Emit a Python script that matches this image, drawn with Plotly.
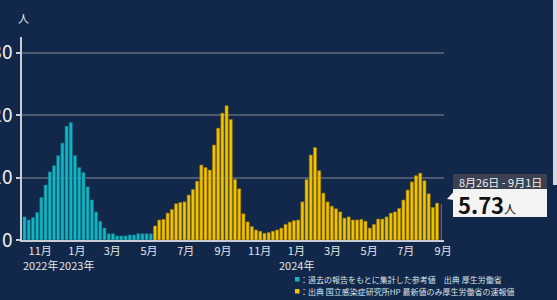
import plotly.graph_objects as go
import pandas as pd

# ---- data ----
week_start = pd.date_range("2022-10-03", periods=100, freq="7D")
week_center = week_start + pd.Timedelta(days=3)

past_vals = [3.7, 3.2, 3.6, 4.4, 6.8, 8.8, 10.9, 11.9, 13.5, 15.5, 18.2, 18.8,
             13.5, 11.6, 10.8, 8.5, 6.4, 4.5, 3.0, 1.9, 1.0, 1.0, 0.65, 0.65,
             0.65, 0.8, 0.8, 1.0, 1.0, 1.0, 1.0]
niid_vals = [2.25, 3.2, 3.3, 4.3, 4.9, 5.8, 6.0, 6.1, 7.2, 8.1, 9.4, 12.0,
             11.6, 11.2, 15.2, 17.9, 20.3, 21.5, 19.3, 9.7, 8.2, 4.2, 2.9, 2.15,
             1.6, 1.4, 1.07, 1.18, 1.4, 1.6, 1.9, 2.5, 2.85, 3.1, 3.2, 6.1,
             9.7, 13.6, 14.8, 11.1, 7.5, 6.1, 5.4, 5.0, 4.5, 3.5, 3.7, 3.2,
             3.2, 3.3, 3.0, 1.9, 2.5, 3.35, 3.35, 3.7, 4.3, 4.5, 5.05, 6.4,
             8.0, 9.3, 10.3, 10.7, 9.5, 7.4, 5.2, 5.9]
latest_val = [5.73]

tick_dates = ["2022-11-01", "2023-01-01", "2023-03-01", "2023-05-01", "2023-07-01",
              "2023-09-01", "2023-11-01", "2024-01-01", "2024-03-01", "2024-05-01",
              "2024-07-01", "2024-09-01"]
tick_text = ["11月", "1月", "3月", "5月", "7月", "9月", "11月",
             "1月", "3月", "5月", "7月", "9月"]
year_dates = ["2022-11-01", "2023-01-01", "2024-01-01"]
year_text = ["2022年", "2023年", "2024年"]
y_ticks = [0, 10, 20, 30]

n1 = len(past_vals)
n2 = len(niid_vals)
x_past = week_center[:n1]
x_niid = week_center[n1:n1 + n2]
x_latest = week_center[n1 + n2:]

BG = "#11284a"
FONT = "Noto Sans CJK JP"

fig = go.Figure()
fig.add_bar(x=x_past, y=past_vals, marker=dict(color="#16b4c4", line=dict(color="#0b7c8a", width=0.6)))
fig.add_bar(x=x_niid, y=niid_vals, marker=dict(color="#f3c300", line=dict(color="#9c7b00", width=0.6)))
fig.add_bar(x=x_latest, y=latest_val, marker=dict(color="#ec8b8e", line=dict(color="#b86064", width=0.6)))

L, R, T, B = 22, 113, 37, 60
W, H = 557, 300
PW, PH = W - L - R, H - T - B


def px(x):
    return (x - L) / PW


def py(y):
    return (H - B - y) / PH


fig.update_layout(
    width=W, height=H,
    margin=dict(l=L, r=R, t=T, b=B, autoexpand=False),
    paper_bgcolor=BG, plot_bgcolor=BG,
    barmode="overlay", bargap=0.28,
    showlegend=False,
    font=dict(family=FONT, color="#e8eaee"),
    xaxis=dict(type="date", range=["2022-10-01 20:00", "2024-09-02 12:00"],
               tickvals=tick_dates, ticktext=tick_text, ticks="", tickangle=0,
               tickfont=dict(size=11, color="#e2e4e8"),
               showgrid=False, showline=True, linecolor="#c9cdd3", linewidth=2,
               zeroline=False, automargin=False),
    yaxis=dict(range=[0, 32.5], tickvals=y_ticks, ticks="outside", ticklen=4,
               tickcolor="#c9cdd3", tickwidth=1.5,
               tickfont=dict(size=19, color="#f0f1f3"),
               showgrid=True, gridcolor="#4b5a71", gridwidth=2,
               showline=True, linecolor="#c9cdd3", linewidth=1.5,
               zeroline=False, automargin=False),
)

shapes = []
annotations = []

# year labels under the month ticks
for d, t in zip(year_dates, year_text):
    annotations.append(dict(x=d, y=py(265), xref="x", yref="paper", text=t,
                            showarrow=False, xanchor="center", yanchor="middle",
                            font=dict(size=11, color="#e2e4e8")))

# unit label
annotations.append(dict(x=px(23), y=py(18), xref="paper", yref="paper", text="人",
                        showarrow=False, font=dict(size=11, color="#e8eaee"),
                        xanchor="center", yanchor="middle"))

# legend squares and texts
shapes.append(dict(type="rect", xref="paper", yref="paper", x0=px(295), x1=px(299.5),
                   y0=py(281.5), y1=py(277), fillcolor="#16b4c4", line=dict(width=0)))
shapes.append(dict(type="rect", xref="paper", yref="paper", x0=px(295), x1=px(299.5),
                   y0=py(293.5), y1=py(289), fillcolor="#f3c300", line=dict(width=0)))
annotations.append(dict(x=px(297.5), y=py(279.5), xref="paper", yref="paper",
                        text="：過去の報告をもとに集計した参考値　出典 厚生労働省",
                        showarrow=False, xanchor="left", yanchor="middle",
                        font=dict(size=8, color="#dfe2e6")))
annotations.append(dict(x=px(297.5), y=py(291.5), xref="paper", yref="paper",
                        text="：出典 国立感染症研究所HP 最新値のみ厚生労働省の速報値",
                        showarrow=False, xanchor="left", yanchor="middle",
                        font=dict(size=8, color="#dfe2e6")))

# tooltip box
shapes.append(dict(type="rect", xref="paper", yref="paper", x0=px(453), x1=px(547),
                   y0=py(189), y1=py(174), fillcolor="#3b4150", line=dict(width=0)))
shapes.append(dict(type="rect", xref="paper", yref="paper", x0=px(453), x1=px(547),
                   y0=py(217), y1=py(189), fillcolor="#f3f3f3", line=dict(width=0)))
shapes.append(dict(type="path", xref="paper", yref="paper",
                   path=f"M {px(447)},{py(199)} L {px(453.5)},{py(192)} L {px(453.5)},{py(200)} Z",
                   fillcolor="#f3f3f3", line=dict(width=0)))
annotations.append(dict(x=px(457), y=py(181.5), xref="paper", yref="paper",
                        text="8月26日 - 9月1日", showarrow=False,
                        xanchor="left", yanchor="middle",
                        font=dict(size=11, color="#f0f0f0")))
annotations.append(dict(x=px(456), y=py(203.5), xref="paper", yref="paper",
                        text="<b>5.73</b><span style='font-size:12px'>人</span>",
                        showarrow=False, xanchor="left", yanchor="middle",
                        font=dict(size=22, color="#111111")))

# light strip at right edge
shapes.append(dict(type="rect", xref="paper", yref="paper", x0=px(553), x1=px(557),
                   y0=py(185), y1=py(0), fillcolor="#d5d9de", line=dict(width=0), layer="above"))

fig.update_layout(shapes=shapes, annotations=annotations)

fig.write_html("out.html",
               config={"displayModeBar": False},
               post_script="document.body.style.margin='0';document.body.style.background='" + BG + "';")
